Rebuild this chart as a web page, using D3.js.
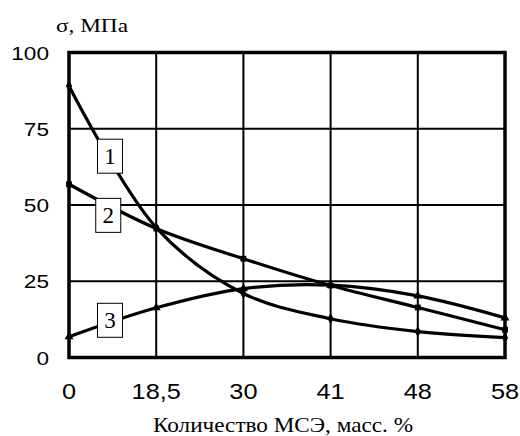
<!DOCTYPE html>
<meta charset="utf-8">
<title>σ vs МСЭ</title>
<style>
body { margin: 0; background: white; }
svg { display: block; }
.sans { font-family: 'Liberation Sans', Arial, sans-serif; fill: #000; }
.serif { font-family: 'Liberation Serif', 'Times New Roman', serif; fill: #000; }
</style>
<svg width="520" height="436"></svg>
<script src="https://d3js.org/d3.v7.min.js"></script>
<script>
// data
var categories = ["0", "18,5", "30", "41", "48", "58"];
var yTicks = [0, 25, 50, 75, 100];
var series1 = [89, 42.6, 21, 12.7, 8.5, 6.5];
var series2 = [56.8, 42.3, 32.4, 23.6, 16.4, 9.1];
var series3 = [6.8, 16.3, 22.6, 23.7, 20.2, 13];
var seriesNames = ["1", "2", "3"];
// label boxes: [category index, value]
var labelPos = [[0.47, 66], [0.45, 46.6], [0.47, 12.2]];
var yTitle = "σ, МПа";
var xTitle = "Количество МСЭ, масс. %";

var svg = d3.select("svg");
var plotL = 69, plotR = 505, plotT = 52.5, plotB = 357.5;

var x = d3.scalePoint().domain(categories).range([plotL, plotR]);
var xi = d3.scaleLinear().domain([0, categories.length - 1]).range([plotL, plotR]);
var y = d3.scaleLinear().domain([0, 100]).range([plotB, plotT]);

// grid
svg.append("g").selectAll("line").data(categories.slice(1, -1)).enter().append("line")
  .attr("x1", d => x(d)).attr("x2", d => x(d))
  .attr("y1", plotT).attr("y2", plotB)
  .attr("stroke", "#000").attr("stroke-width", 2);
svg.append("g").selectAll("line").data(yTicks.slice(1, -1)).enter().append("line")
  .attr("x1", plotL).attr("x2", plotR)
  .attr("y1", d => y(d)).attr("y2", d => y(d))
  .attr("stroke", "#000").attr("stroke-width", 2);

// frame
svg.append("rect")
  .attr("x", plotL).attr("y", plotT)
  .attr("width", plotR - plotL).attr("height", plotB - plotT)
  .attr("fill", "none").attr("stroke", "#000").attr("stroke-width", 3.5);

// curves
var line = d3.line()
  .x((d, i) => x(categories[i]))
  .y(d => y(d))
  .curve(d3.curveCatmullRom.alpha(0.5));

var allSeries = [series1, series2, series3];
var symbols = [d3.symbolDiamond, d3.symbolSquare, d3.symbolTriangle];

allSeries.forEach(function(s, k) {
  svg.append("path")
    .attr("d", line(s))
    .attr("fill", "none")
    .attr("stroke", "#000")
    .attr("stroke-width", 3.2)
    .attr("stroke-linejoin", "round");
  svg.append("g").selectAll("path").data(s).enter().append("path")
    .attr("transform", (d, i) => "translate(" + x(categories[i]) + "," + y(d) + ")")
    .attr("d", d3.symbol().type(symbols[k]).size(34))
    .attr("fill", "#000");
});

// label boxes
var lab = svg.append("g").selectAll("g").data(labelPos).enter().append("g")
  .attr("transform", d => "translate(" + xi(d[0]) + "," + y(d[1]) + ")");
lab.append("rect")
  .attr("x", -12.5).attr("y", -17)
  .attr("width", 25).attr("height", 34)
  .attr("fill", "#fff").attr("stroke", "#000").attr("stroke-width", 1);
lab.append("text")
  .attr("class", "serif")
  .attr("text-anchor", "middle")
  .attr("y", 8)
  .attr("font-size", 23)
  .text((d, i) => seriesNames[i]);

// y tick labels
svg.append("g").selectAll("text").data(yTicks).enter().append("text")
  .attr("class", "sans")
  .attr("text-anchor", "end")
  .attr("font-size", 19)
  .attr("transform", d => "translate(49," + (y(d) + 7) + ") scale(1.19,1)")
  .text(d => d);

// x tick labels
svg.append("g").selectAll("text").data(categories).enter().append("text")
  .attr("class", "sans")
  .attr("text-anchor", "middle")
  .attr("font-size", 22)
  .attr("transform", d => "translate(" + x(d) + ",399) scale(1.15,1)")
  .text(d => d);

// titles
svg.append("text")
  .attr("class", "serif")
  .attr("x", 56).attr("y", 32)
  .attr("font-size", 19)
  .attr("textLength", 72).attr("lengthAdjust", "spacingAndGlyphs")
  .text(yTitle);

svg.append("text")
  .attr("class", "serif")
  .attr("x", 153).attr("y", 432)
  .attr("font-size", 21)
  .attr("textLength", 260).attr("lengthAdjust", "spacingAndGlyphs")
  .text(xTitle);
</script>
